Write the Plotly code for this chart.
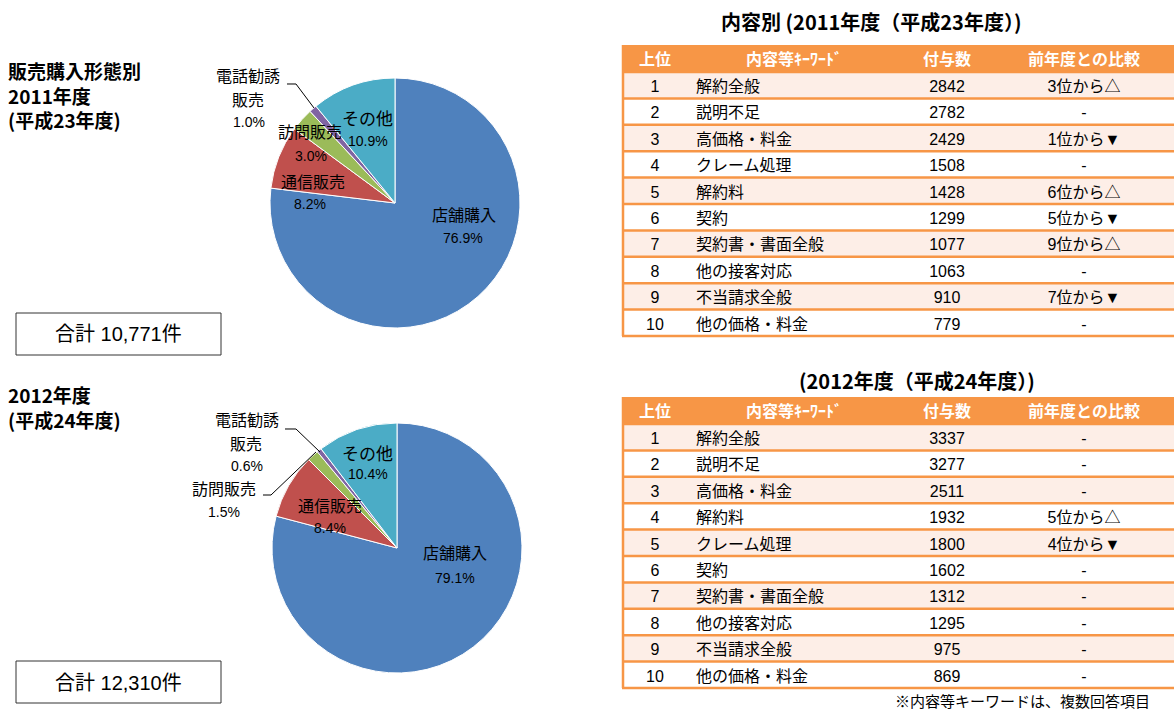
import plotly.graph_objects as go

W, H = 1174, 713

# pie data
pie_labels = ["店舗購入", "通信販売", "訪問販売", "電話勧誘販売", "その他"]
share_2011 = [76.9, 8.2, 3.0, 1.0, 10.9]
share_2012 = [79.1, 8.4, 1.5, 0.6, 10.4]
pie_colors = ["#4F81BD", "#C0504D", "#9BBB59", "#8064A2", "#4BACC6"]
total_2011 = "合計 10,771件"
total_2012 = "合計 12,310件"

# table data
rank = [str(i) for i in range(1, 11)]
kw_2011 = ["解約全般", "説明不足", "高価格・料金", "クレーム処理", "解約料", "契約",
           "契約書・書面全般", "他の接客対応", "不当請求全般", "他の価格・料金"]
cnt_2011 = [2842, 2782, 2429, 1508, 1428, 1299, 1077, 1063, 910, 779]
cmp_2011 = ["3位から△", "-", "1位から▼", "-", "6位から△", "5位から▼", "9位から△", "-", "7位から▼", "-"]

kw_2012 = ["解約全般", "説明不足", "高価格・料金", "解約料", "クレーム処理", "契約",
           "契約書・書面全般", "他の接客対応", "不当請求全般", "他の価格・料金"]
cnt_2012 = [3337, 3277, 2511, 1932, 1800, 1602, 1312, 1295, 975, 869]
cmp_2012 = ["-", "-", "-", "5位から△", "4位から▼", "-", "-", "-", "-", "-"]

header = ["上位", "内容等ｷｰﾜｰﾄﾞ", "付与数", "前年度との比較"]

FONT = "Liberation Sans, Noto Sans CJK JP, sans-serif"
JP = "Noto Sans CJK JP, sans-serif"
ORANGE = "#F79646"
PINK = "#FDEEE7"


def px(x):
    return x / W


def py(y):
    return 1 - y / H


fig = go.Figure()

# pies
for vals, (x0, y0) in [(share_2011, (270, 78)), (share_2012, (272, 423))]:
    fig.add_trace(go.Pie(
        labels=pie_labels, values=vals, sort=False, direction="clockwise", rotation=0,
        marker=dict(colors=pie_colors, line=dict(color="white", width=1)),
        textinfo="none", showlegend=False,
        domain=dict(x=[px(x0), px(x0 + 250)], y=[py(y0 + 250), py(y0)]),
    ))

# tables
head_h, row_h = 27, 26.4
col_w = [66, 212, 94, 180]
row_fill = [PINK if i % 2 == 0 else "white" for i in range(10)]
tables = [(kw_2011, cnt_2011, cmp_2011, 45), (kw_2012, cnt_2012, cmp_2012, 397)]
for kw, cnt, cmp, top in tables:
    bottom = top + head_h + 10 * row_h
    fig.add_trace(go.Table(
        domain=dict(x=[px(622), 1], y=[py(bottom + 4), py(top)]),
        columnwidth=col_w,
        header=dict(values=header, fill_color=ORANGE,
                    line=dict(color=ORANGE, width=1), height=head_h,
                    font=dict(family=JP, size=16, color="white", weight="bold"), align="center"),
        cells=dict(values=[rank, kw, cnt, cmp],
                   fill_color=[row_fill] * 4,
                   line=dict(color=[row_fill] * 4, width=1),
                   height=row_h,
                   font=dict(family=FONT, size=16, color="black"),
                   align=["center", "left", "center", "center"]),
    ))

shapes = []
for kw, cnt, cmp, top in tables:
    for i in range(11):
        yy = top + head_h + i * row_h
        shapes.append(dict(type="line", xref="paper", yref="paper", x0=px(622), x1=1,
                           y0=py(yy), y1=py(yy), line=dict(color=ORANGE, width=2.5)))
    shapes.append(dict(type="line", xref="paper", yref="paper", x0=px(623), x1=px(623),
                       y0=py(top), y1=py(top + head_h + 10 * row_h),
                       line=dict(color=ORANGE, width=2.5)))

# total boxes
for y0 in [313, 661]:
    shapes.append(dict(type="rect", xref="paper", yref="paper", x0=px(16), x1=px(221),
                       y0=py(y0 + 42), y1=py(y0), line=dict(color="#333333", width=1)))

# leader lines
for path in ["M %f,%f L %f,%f L %f,%f" % (px(287), py(84), px(296), py(84), px(314), py(108)),
             "M %f,%f L %f,%f L %f,%f" % (px(285), py(429), px(296), py(429), px(320), py(452)),
             "M %f,%f L %f,%f L %f,%f" % (px(263), py(495), px(271), py(495), px(316), py(452))]:
    shapes.append(dict(type="path", xref="paper", yref="paper", path=path,
                       line=dict(color="black", width=1)))

ann = []


def txt(x, y, s, size=15, anchor="center", family=FONT, align="center"):
    ann.append(dict(x=px(x), y=py(y), xref="paper", yref="paper", text=s, showarrow=False,
                    xanchor=anchor, yanchor="middle", align=align,
                    font=dict(family=family, size=size, color="black")))


# left titles
txt(6, 95, "<b>販売購入形態別<br>2011年度<br>(平成23年度)</b>", 19, "left", JP, "left")
txt(6, 407, "<b>2012年度<br>(平成24年度)</b>", 19, "left", JP, "left")

# right titles
txt(871, 22, "<b>内容別 (2011年度（平成23年度）)</b>", 20, "center", JP)
txt(917, 380, "<b>(2012年度（平成24年度）)</b>", 20, "center", JP)
txt(1152, 700, "※内容等キーワードは、複数回答項目", 15, "right", JP)

# totals
txt(118, 334, total_2011, 20)
txt(118, 683, total_2012, 20)

# pie labels 2011
pct = lambda v: "%.1f%%" % v
txt(367, 118, "その他", 17, family=JP); txt(368, 141, pct(share_2011[4]), 14)
txt(464, 214, "店舗購入", 16, family=JP); txt(463, 238, pct(share_2011[0]), 14)
txt(313, 181, "通信販売", 16, family=JP); txt(310, 204, pct(share_2011[1]), 14)
txt(310, 131, "訪問販売", 16, family=JP); txt(311, 156, pct(share_2011[2]), 14)
txt(248, 75, "電話勧誘", 16, family=JP); txt(248, 99, "販売", 16, family=JP)
txt(249, 122, pct(share_2011[3]), 14)

# pie labels 2012
txt(367, 452, "その他", 17, family=JP); txt(368, 474, pct(share_2012[4]), 14)
txt(455, 552, "店舗購入", 16, family=JP); txt(455, 578, pct(share_2012[0]), 14)
txt(330, 505, "通信販売", 16, family=JP); txt(330, 528, pct(share_2012[1]), 14)
txt(224, 488, "訪問販売", 16, family=JP); txt(224, 512, pct(share_2012[2]), 14)
txt(247, 419, "電話勧誘", 16, family=JP); txt(246, 443, "販売", 16, family=JP)
txt(247, 466, pct(share_2012[3]), 14)

fig.update_layout(width=W, height=H, margin=dict(l=0, r=0, t=0, b=0),
                  paper_bgcolor="white", plot_bgcolor="white",
                  shapes=shapes, annotations=ann, font=dict(family=FONT))

fig.write_html("out.html", config={"displayModeBar": False},
               post_script="document.body.style.margin='0';")
